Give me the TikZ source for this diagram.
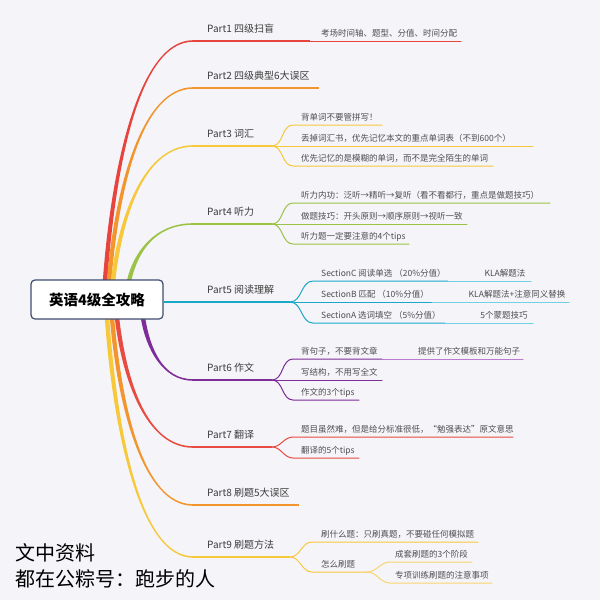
\documentclass[tikz,border=0pt]{standalone}
\usepackage{fontspec}
\setmainfont{Noto Sans CJK SC}
\usetikzlibrary{calc}

\definecolor{bgpaper}{HTML}{F4F4F9}
\definecolor{hubline}{HTML}{3F4D70}
\definecolor{txtdark}{HTML}{3D3D3D}
\definecolor{txtgray}{HTML}{4F4F4F}
\definecolor{redA}{HTML}{E6443D}
\definecolor{orgA}{HTML}{F2952C}
\definecolor{yelA}{HTML}{F8C83B}
\definecolor{yelB}{HTML}{F9D66E}
\definecolor{grnA}{HTML}{9BC346}
\definecolor{cynA}{HTML}{1AA8C9}
\definecolor{cynB}{HTML}{74CFE4}
\definecolor{purA}{HTML}{7E2C98}
\definecolor{purB}{HTML}{BA7BD0}
\definecolor{redB}{HTML}{E84B40}

% tapered main branch: colour, from, to, 1 = up / -1 = down
\newcommand{\limb}[4]{%
  \fill[#1] let \p1=(#2), \p2=(#3) in
    ({\x1-2.2pt},{\y1})
    .. controls ({0.9*\x1+0.1*\x2-2.2pt},{0.5*\y1+0.5*\y2}) and ({0.6*\x1+0.4*\x2},{\y2+(#4)*0.8pt}) ..
    ({\x2},{\y2+(#4)*0.8pt}) -- ({\x2},{\y2-(#4)*0.8pt})
    .. controls ({0.6*\x1+0.4*\x2},{\y2-(#4)*0.8pt}) and ({0.9*\x1+0.1*\x2+2.2pt},{0.5*\y1+0.5*\y2}) ..
    ({\x1+2.2pt},{\y1}) -- cycle;
}

\begin{document}
\begin{tikzpicture}[x=1pt,y=-1pt,
  hub/.style={draw=hubline,fill=white,line width=1.2pt,rounded corners=4pt,
    minimum width=132pt,minimum height=39pt,inner sep=0pt,
    font=\fontsize{14.5}{16}\selectfont\bfseries},
  part/.style={anchor=base west,inner sep=0pt,text=txtdark,font=\fontsize{10}{12}\selectfont},
  leaf/.style={anchor=base west,inner sep=0pt,text=txtgray,font=\fontsize{8.5}{10}\selectfont},
  tip/.style={anchor=base,inner sep=0pt,text=txtgray,font=\fontsize{8.5}{10}\selectfont},
  note/.style={anchor=base west,inner sep=0pt,text=black,font=\fontsize{20}{24}\selectfont},
  partline/.style={line width=1.5pt},
  twig/.style={line width=1pt,line cap=round}]

\fill[bgpaper] (0,0) rectangle (600,600);
\useasboundingbox (0,0) rectangle (600,600);

% where the branches leave the root
\coordinate (r1) at (105,281);
\coordinate (r2) at (109,281);
\coordinate (r3) at (113,281);
\coordinate (r4) at (129,281);
\coordinate (r5) at (163,302);
\coordinate (r6) at (143,318);
\coordinate (r7) at (117,318);
\coordinate (r8) at (112,318);
\coordinate (r9) at (107,318);

% start and end of each part line
\coordinate (p1) at (193,41);  \coordinate (e1) at (310,41);
\coordinate (p2) at (193,88);  \coordinate (e2) at (319,88);
\coordinate (p3) at (193,146); \coordinate (e3) at (272,146);
\coordinate (p4) at (193,224); \coordinate (e4) at (272,224);
\coordinate (e5) at (290,302);
\coordinate (p6) at (193,380); \coordinate (e6) at (272,380);
\coordinate (p7) at (193,447); \coordinate (e7) at (272,447);
\coordinate (p8) at (193,505); \coordinate (e8) at (299,505);
\coordinate (p9) at (193,557); \coordinate (e9) at (290,557);

\limb{redA}{r1}{p1}{1}
\limb{orgA}{r2}{p2}{1}
\limb{yelA}{r3}{p3}{1}
\limb{grnA}{r4}{p4}{1}
\limb{purA}{r6}{p6}{-1}
\limb{redB}{r7}{p7}{-1}
\limb{orgA}{r8}{p8}{-1}
\limb{yelA}{r9}{p9}{-1}

\node[hub] (root) at (97,299.5) {英语4级全攻略};

% part lines
\draw[partline,redA] (p1) -- (e1);
\draw[partline,orgA] (p2) -- (e2);
\draw[partline,yelA] (p3) -- (e3);
\draw[partline,grnA] (p4) -- (e4);
\draw[line width=2pt,cynA] (r5) -- (e5);
\draw[partline,purA] (p6) -- (e6);
\draw[partline,redB] (p7) -- (e7);
\draw[partline,orgA] (p8) -- (e8);
\draw[partline,yelA] (p9) -- (e9);

\node[part] (part1) at (207,32) {Part1 四级扫盲};
\node[part] (part2) at (207,79) {Part2 四级典型6大误区};
\node[part] (part3) at (207,137) {Part3 词汇};
\node[part] (part4) at (207,215) {Part4 听力};
\node[part] (part5) at (207,293) {Part5 阅读理解};
\node[part] (part6) at (207,371) {Part6 作文};
\node[part] (part7) at (207,438) {Part7 翻译};
\node[part] (part8) at (207,496) {Part8 刷题5大误区};
\node[part] (part9) at (207,548) {Part9 刷题方法};

% Part1
\draw[twig,redA] (e1) -- (461,41) coordinate (d11);
\node[leaf] (t11) at (321,36) {考场时间轴、题型、分值、时间分配};

% Part3
\draw[twig,yelA] (e3) to[out=0,in=180] (293,125) -- (382,125);
\draw[twig,yelA] (e3) -- (533,146);
\draw[twig,yelA] (e3) to[out=0,in=180] (293,166) -- (493,166);
\node[leaf] (t31) at (301,120) {背单词不要管拼写！};
\node[leaf] (t32) at (301,141) {丢掉词汇书，优先记忆本文的重点单词表（不到600个）};
\node[leaf] (t33) at (301,161) {优先记忆的是模糊的单词，而不是完全陌生的单词};

% Part4
\draw[twig,grnA] (e4) to[out=0,in=180] (293,203) -- (550,203);
\draw[twig,grnA] (e4) -- (467,224);
\draw[twig,grnA] (e4) to[out=0,in=180] (293,244) -- (409,244);
\node[leaf] (t41) at (301,198) {听力内功：泛听→精听→复听（看不看都行，重点是做题技巧）};
\node[leaf] (t42) at (301,219) {做题技巧：开头原则→顺序原则→视听一致};
\node[leaf] (t43) at (301,239) {听力题一定要注意的4个tips};

% Part5
\draw[twig,cynA] (e5) to[out=0,in=180] (313,281) -- (448,281) coordinate (d51);
\draw[twig,cynA] (e5) -- (432,302) coordinate (d52);
\draw[twig,cynA] (e5) to[out=0,in=180] (313,323) -- (445,323) coordinate (d53);
\draw[twig,cynB] (d51) -- (531,281);
\draw[twig,cynB] (d52) -- (569,302);
\draw[twig,cynB] (d53) -- (533,323);
\node[leaf] (t51) at (321,276) {SectionC 阅读单选 （20\%分值）};
\node[leaf] (t52) at (321,297) {SectionB 匹配 （10\%分值）};
\node[leaf] (t53) at (321,318) {SectionA 选词填空 （5\%分值）};
\node[tip] (k51) at (505,276) {KLA解题法};
\node[tip] (k52) at (517,297) {KLA解题法+注意同义替换};
\node[tip] (k53) at (504,318) {5个蒙题技巧};

% Part6
\draw[twig,purA] (e6) to[out=0,in=180] (293,359) -- (382,359) coordinate (d61);
\draw[twig,purA] (e6) -- (382,380);
\draw[twig,purA] (e6) to[out=0,in=180] (293,400) -- (359,400);
\draw[twig,purB] (d61) -- (523,359);
\node[leaf] (t61) at (301,354) {背句子，不要背文章};
\node[leaf] (t62) at (301,375) {写结构，不用写全文};
\node[leaf] (t63) at (301,395) {作文的3个tips};
\node[leaf] (k61) at (418,354) {提供了作文模板和万能句子};

% Part7
\draw[twig,redB] (e7) to[out=0,in=180] (293,437) -- (513,437);
\draw[twig,redB] (e7) to[out=0,in=180] (293,458) -- (359,458);
\node[leaf] (t71) at (301,432) {题目虽然难，但是给分标准很低，“勉强表达”原文意思};
\node[leaf] (t72) at (301,453) {翻译的5个tips};

% Part9
\draw[twig,yelA] (e9) to[out=0,in=180] (312,542) -- (478,542);
\draw[twig,yelA] (e9) to[out=0,in=180] (312,572) -- (367,572) coordinate (d92);
\draw[twig,yelB] (d92) to[out=0,in=180] (390,562) -- (472,562);
\draw[twig,yelB] (d92) to[out=0,in=180] (390,583) -- (492,583);
\node[leaf] (t91) at (321,537) {刷什么题：只刷真题，不要碰任何模拟题};
\node[leaf] (t92) at (321,567) {怎么刷题};
\node[leaf] (k91) at (395,557) {成套刷题的3个阶段};
\node[leaf] (k92) at (395,578) {专项训练刷题的注意事项};

% note bottom left
\node[note] (note1) at (15,560) {文中资料};
\node[note] (note2) at (15,586) {都在公粽号：跑步的人};

\end{tikzpicture}
\end{document}
